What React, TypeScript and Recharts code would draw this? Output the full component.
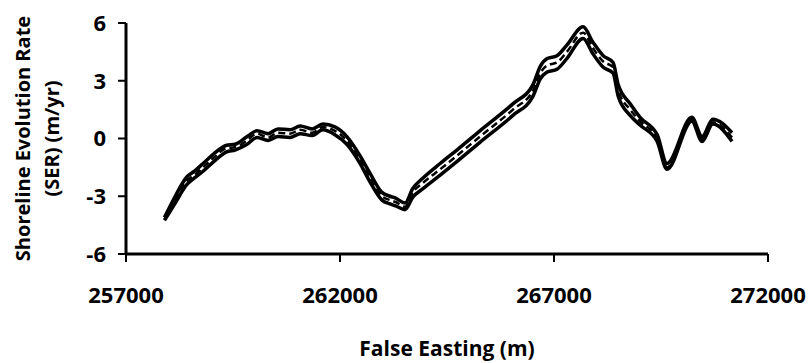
import React from 'react'
import { LineChart, Line, XAxis, YAxis, Label } from 'recharts'

// False easting of each transect (m)
const easting = [
  257900, 258150, 258420, 258600, 258800, 259050, 259350, 259550, 259830, 260060,
  260320, 260550, 260830, 261070, 261350, 261600, 261880, 262160, 262470, 262700,
  262980, 263170, 263300, 263520, 263700, 263940, 264340, 264730, 265270, 266040,
  266510, 266680, 266840, 267070, 267300, 267680, 267910, 268150, 268380, 268500,
  268780, 269010, 269410, 269640, 270220, 270460, 270710, 271160,
]

const serUpper = [
  -4.1, -3.0, -2.0, -1.7, -1.3, -0.8, -0.35, -0.3, 0.1, 0.4,
  0.25, 0.5, 0.45, 0.65, 0.5, 0.75, 0.6, 0.1, -0.9, -1.8,
  -2.8, -3.0, -3.1, -3.35, -2.6, -2.05, -1.3, -0.6, 0.4, 1.8,
  2.8, 3.75, 4.15, 4.3, 4.85, 5.8, 5.0, 4.3, 3.95, 2.8,
  1.8, 1.1, 0.2, -1.3, 1.1, 0.1, 1.0, 0.3,
]

const serMid = [
  -4.2, -3.2, -2.2, -1.9, -1.5, -1.0, -0.5, -0.45, -0.1, 0.25,
  0.05, 0.3, 0.25, 0.45, 0.3, 0.6, 0.4, -0.1, -1.1, -2.0,
  -3.0, -3.2, -3.3, -3.55, -2.8, -2.3, -1.6, -0.9, 0.1, 1.5,
  2.5, 3.4, 3.8, 3.95, 4.5, 5.5, 4.7, 4.0, 3.7, 2.5,
  1.5, 0.9, 0.0, -1.5, 1.0, -0.05, 0.85, 0.05,
]

const serLower = [
  -4.25, -3.35, -2.4, -2.05, -1.7, -1.2, -0.7, -0.6, -0.3, 0.05,
  -0.1, 0.1, 0.05, 0.25, 0.15, 0.45, 0.2, -0.3, -1.3, -2.25,
  -3.2, -3.4, -3.5, -3.7, -3.05, -2.6, -1.9, -1.2, -0.2, 1.2,
  2.2, 3.1, 3.45, 3.6, 4.15, 5.2, 4.4, 3.7, 3.4, 2.2,
  1.2, 0.7, -0.15, -1.6, 0.9, -0.15, 0.75, -0.15,
]

const xTicks = [257000, 262000, 267000, 272000]
const yTicks = [-6, -3, 0, 3, 6]

const data = easting.map((e, i) => ({
  e,
  upper: serUpper[i],
  mid: serMid[i],
  lower: serLower[i],
}))

const font = '"Open Sans", Lato, sans-serif'

const YTitle = (props: any) => {
  const cy = props.viewBox.y + props.viewBox.height / 2
  return (
    <g fontFamily={font} fontWeight={700} fontSize={20} fill="#000">
      <text x={22} y={cy} transform={`rotate(-90 22 ${cy})`} textAnchor="middle" dominantBaseline="central">
        Shoreline Evolution Rate
      </text>
      <text x={51} y={cy} transform={`rotate(-90 51 ${cy})`} textAnchor="middle" dominantBaseline="central">
        (SER) (m/yr)
      </text>
    </g>
  )
}

const XTitle = (props: any) => {
  const cx = props.viewBox.x + props.viewBox.width / 2
  return (
    <text x={cx} y={348} textAnchor="middle" dominantBaseline="central"
      fontFamily={font} fontWeight={700} fontSize={21} fill="#000">
      False Easting (m)
    </text>
  )
}

export default function App() {
  const tickStyle = { fontFamily: font, fontWeight: 700, fontSize: 22, fill: '#000' }
  return (
    <div style={{ position: 'absolute', left: 0, top: 0, background: '#fff' }}>
      <LineChart width={809} height={363} data={data}
        margin={{ top: 23, right: 41, bottom: 49, left: 0 }}>
        <XAxis dataKey="e" type="number" domain={[257000, 272000]} ticks={xTicks}
          stroke="#000" strokeWidth={3} tickSize={8} tickMargin={25} height={60}
          tick={tickStyle} tickLine={{ stroke: '#000', strokeWidth: 2 }} interval={0}>
          <Label content={<XTitle />} />
        </XAxis>
        <YAxis type="number" domain={[-6, 6]} ticks={yTicks} width={126}
          stroke="#000" strokeWidth={3} tickSize={8} tickMargin={12}
          tick={tickStyle} tickLine={{ stroke: '#000', strokeWidth: 2 }} interval={0}>
          <Label content={<YTitle />} />
        </YAxis>
        <Line dataKey="lower" type="monotone" stroke="#000" strokeWidth={3.5}
          dot={false} isAnimationActive={false} />
        <Line dataKey="upper" type="monotone" stroke="#000" strokeWidth={3.5}
          dot={false} isAnimationActive={false} />
        <Line dataKey="mid" type="monotone" stroke="#000" strokeWidth={2.5}
          strokeDasharray="7 4" dot={false} isAnimationActive={false} />
      </LineChart>
    </div>
  )
}
